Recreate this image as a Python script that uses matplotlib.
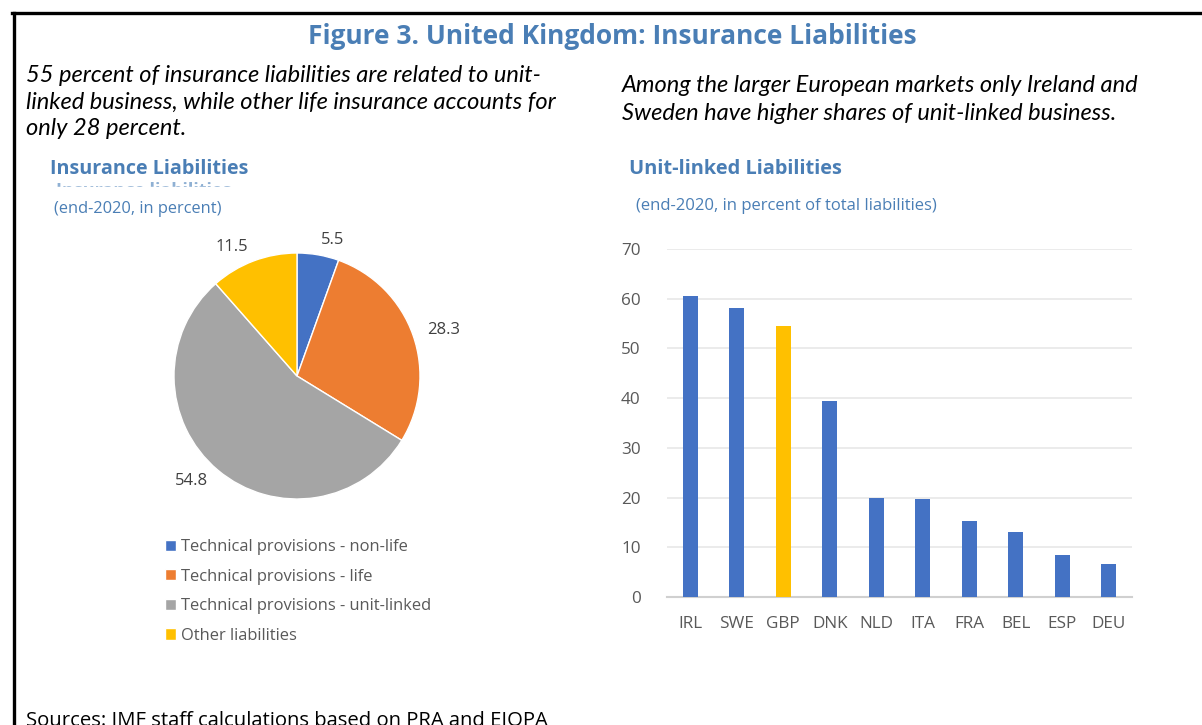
import matplotlib.pyplot as plt
from matplotlib.lines import Line2D
from matplotlib.patches import Rectangle

# pie: composition of UK insurance liabilities (end-2020, percent)
pie_labels = ["Technical provisions - non-life", "Technical provisions - life",
              "Technical provisions - unit-linked", "Other liabilities"]
pie_values = [5.5, 28.3, 54.8, 11.5]
pie_colors = ["#4472C4", "#ED7D31", "#A5A5A5", "#FFC000"]

# bars: unit-linked share of total liabilities
countries = ["IRL", "SWE", "GBP", "DNK", "NLD", "ITA", "FRA", "BEL", "ESP", "DEU"]
unit_linked = [60.6, 58.2, 54.5, 39.5, 20.0, 19.7, 15.2, 13.0, 8.4, 6.7]
highlight = "GBP"

W, H = 1202, 725
BLUE_T = "#4A7EB5"
GREY_T = "#595959"


def fx(x):
    return x / W


def fy(y):
    return 1 - y / H


def box(x0, y0, x1, y1):
    # pixel box (top-left origin) -> figure fraction rect
    return [fx(x0), fy(y1), (x1 - x0) / W, (y1 - y0) / H]


fig = plt.figure(figsize=(W / 100, H / 100), dpi=100)
fig.patch.set_facecolor("white")

# frame (left + top only, as in the source)
fig.add_artist(Line2D([fx(12), 1], [fy(12.5), fy(12.5)], color="black", lw=2.4))
fig.add_artist(Line2D([fx(14), fx(14)], [0, fy(12.5)], color="black", lw=2.4))

fig.text(fx(612), fy(36), "Figure 3. United Kingdom: Insurance Liabilities",
         ha="center", va="center", fontsize=19, fontweight="bold", color=BLUE_T,
         family="Open Sans")

left_note = ["55 percent of insurance liabilities are related to unit-",
             "linked business, while other life insurance accounts for",
             "only 28 percent."]
for i, s in enumerate(left_note):
    fig.text(fx(26), fy(75.5 + 26.5 * i), s, ha="left", va="center", fontsize=17,
             style="italic", family="Lato", color="black")

right_note = ["Among the larger European markets only Ireland and",
              "Sweden have higher shares of unit-linked business."]
for i, s in enumerate(right_note):
    fig.text(fx(622), fy(85.5 + 28 * i), s, ha="left", va="center", fontsize=17,
             style="italic", family="Lato", color="black")

# pie panel headings
fig.text(fx(50), fy(169.5), "Insurance Liabilities", ha="left", va="center",
         fontsize=14.2, fontweight="bold", color=BLUE_T, family="Open Sans")
# leftover heading that is mostly hidden in the source
fig.text(fx(56), fy(191), "Insurance liabilities", ha="left", va="center",
         fontsize=13, fontweight="bold", color="#8FB0D3", family="Open Sans")
fig.add_artist(Rectangle((fx(40), fy(199)), fx(260) - fx(40), (199 - 187) / H,
                         transform=fig.transFigure, color="white", zorder=5))
fig.text(fx(54), fy(209), "(end-2020, in percent)", ha="left", va="center",
         fontsize=11.8, color=BLUE_T, family="Open Sans", zorder=6)

# bar panel headings
fig.text(fx(629), fy(169.5), "Unit-linked Liabilities", ha="left", va="center",
         fontsize=14.4, fontweight="bold", color=BLUE_T, family="Open Sans")
fig.text(fx(636), fy(206), "(end-2020, in percent of total liabilities)", ha="left",
         va="center", fontsize=12, color=BLUE_T, family="Open Sans")

# pie
r = 123
cx, cy = 297, 376
ax1 = fig.add_axes(box(cx - r, cy - r, cx + r, cy + r))
wedges, texts = ax1.pie(pie_values, colors=pie_colors, startangle=90, counterclock=False,
                        labels=[f"{v:.1f}" for v in pie_values], labeldistance=1.12,
                        wedgeprops=dict(linewidth=1, edgecolor="white"),
                        textprops=dict(fontsize=12, color="#404040", family="Open Sans"))
ax1.set_xlim(-1, 1)
ax1.set_ylim(-1, 1)
ax1.set_aspect("equal")
ax1.axis("off")

fig.legend(wedges, pie_labels, loc="upper left", bbox_to_anchor=(fx(165), fy(539)),
           frameon=False, handlelength=0.68, handleheight=0.68, handletextpad=0.3,
           labelspacing=0.82, borderaxespad=0, borderpad=0,
           prop=dict(family="Open Sans", size=11.9), labelcolor=GREY_T)

# bars
ax2 = fig.add_axes(box(667, 249, 1132, 597))
xs = range(len(countries))
bar_colors = ["#FFC000" if c == highlight else "#4472C4" for c in countries]
ax2.bar(xs, unit_linked, width=0.33, color=bar_colors, zorder=3)
ax2.set_ylim(0, 70)
ax2.set_xlim(-0.5, len(countries) - 0.5)
ax2.set_yticks(range(0, 71, 10))
ax2.set_xticks(list(xs))
ax2.set_xticklabels(countries)
ax2.yaxis.grid(True, color="#E8E8E8", lw=1.2, zorder=0)
for sp in ["top", "right", "left"]:
    ax2.spines[sp].set_visible(False)
ax2.spines["bottom"].set_color("#D0D0D0")
ax2.spines["bottom"].set_linewidth(1.5)
ax2.tick_params(length=0, labelsize=12.3, labelcolor=GREY_T)
ax2.tick_params(axis="y", pad=19)
ax2.tick_params(axis="x", pad=14)
for t in ax2.get_xticklabels() + ax2.get_yticklabels():
    t.set_family("Open Sans")

# source note, clipped by the bottom edge like the original
fig.text(fx(26), fy(726), "Sources: IMF staff calculations based on PRA and EIOPA",
         ha="left", va="baseline", fontsize=14.6, color="black", family="Open Sans")

fig.savefig("out.png", dpi=100)
